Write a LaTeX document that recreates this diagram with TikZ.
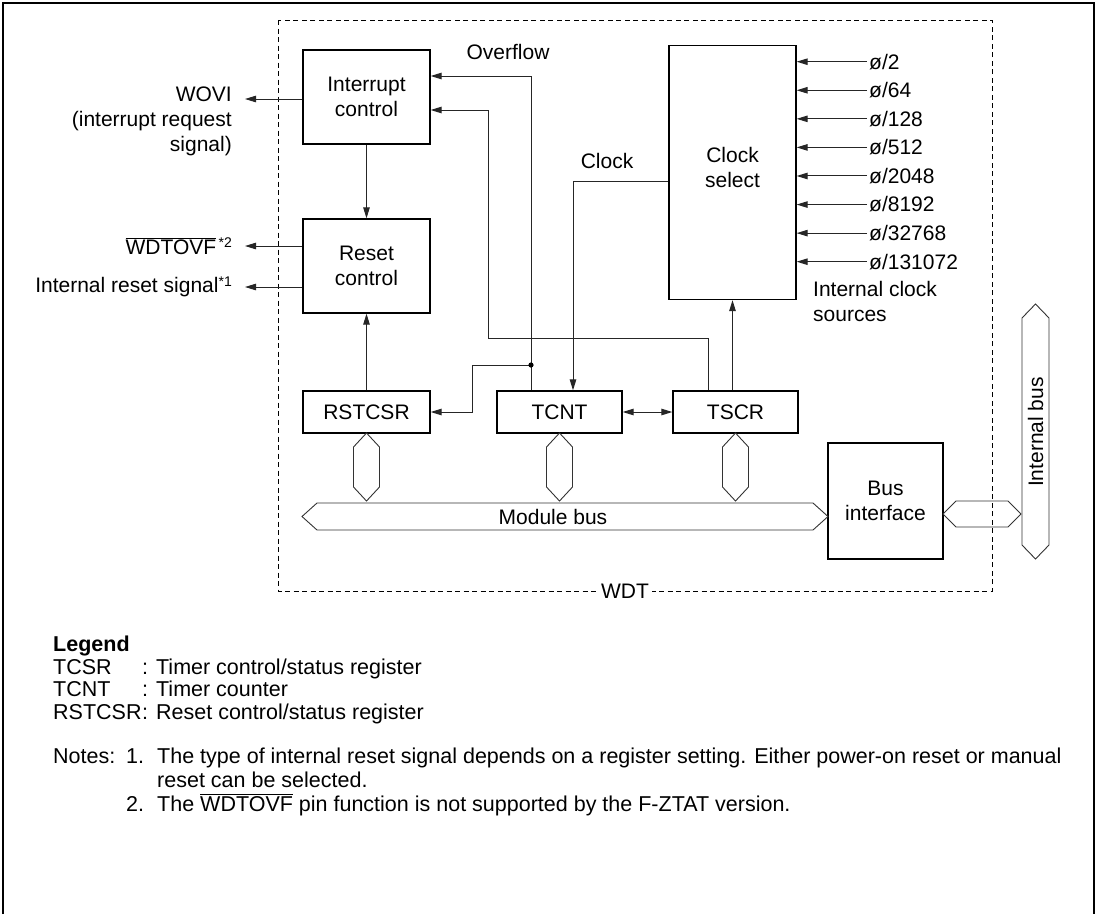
\documentclass[tikz,border=0pt]{standalone}
\usepackage{fontspec}
\setmainfont{Liberation Sans}
\usetikzlibrary{arrows.meta}
\newcommand\dfont{\fontsize{21}{25}\selectfont}
\newcommand\lfont{\fontsize{21.5}{24}\selectfont}
\newcommand\supfont{\fontsize{14}{14}\selectfont}
\begin{document}
\begin{tikzpicture}[x=1pt,y=-1pt,
  box/.style={draw=black, line width=1.3pt, inner sep=0pt, align=center, font=\dfont},
  conn/.style={line width=1pt, draw=black!85},
  arr/.style={conn, -{Triangle[length=11pt,width=6.5pt]}},
  arrb/.style={conn, {Triangle[length=11pt,width=6.5pt]}-{Triangle[length=11pt,width=6.5pt]}},
  bus/.style={line width=0.9pt, draw=black!80},
  lbl/.style={font=\dfont, inner sep=0pt},
  leg/.style={font=\lfont, inner sep=0pt, anchor=base west},
  wdtbox/.style={line width=0.9pt, dash pattern=on 5pt off 3.5pt},
]
\useasboundingbox (0,0) rectangle (1101,914);
% outer frame
\draw[line width=1.2pt] (3,914) -- (3,3) -- (1094,3) -- (1094,914);

% WDT dashed box
\draw[wdtbox] (278,20) rectangle (992,591);
\node[lbl, fill=white, inner xsep=3pt] (wdt) at (625,591) {WDT};

% blocks
\node[box, minimum width=127pt, minimum height=94pt] (ic) at (366.5,97) {Interrupt\\control};
\node[box, minimum width=127pt, minimum height=94pt] (rc) at (366.5,266) {Reset\\control};
\node[box, minimum width=127pt, minimum height=42pt] (rst) at (366.5,412) {RSTCSR};
\node[box, minimum width=125pt, minimum height=42pt] (tcnt) at (559.5,412) {TCNT};
\node[box, minimum width=125pt, minimum height=42pt] (tscr) at (735.5,412) {TSCR};
\node[box, minimum width=127pt, minimum height=254pt] (cs) at (732.5,172.5) {};
\node[lbl, align=center] (csT) at (732.5,167) {Clock\\select};
\node[box, minimum width=115pt, minimum height=116pt] (bi) at (885.5,501) {Bus\\interface};

% left outputs
\coordinate (wovi) at (245,99);
\coordinate (wdo) at (245,246);
\coordinate (irs) at (245,287);
\draw[arr] (ic.west |- wovi) -- (wovi);
\draw[arr] (rc.west |- wdo) -- (wdo);
\draw[arr] (rc.west |- irs) -- (irs);
\node[lbl, anchor=east, align=right] (woviT) at (232,121.5) {WOVI\\(interrupt request\\signal)};
\node[lbl, anchor=east] (wdoT) at (232,246) {$\overline{\mbox{WDTOVF}}$\raisebox{0.6ex}{\supfont\,*2}};
\node[lbl, anchor=east] (irsT) at (232,287) {Internal reset signal\raisebox{0.6ex}{\supfont *1}};

% vertical connections
\draw[arr] (ic.south) -- (rc.north);
\draw[arr] (rst.north) -- (rc.south);
\draw[arr] (tscr.north -| cs.south) -- (cs.south);
\draw[arrb] (tcnt.east) -- (tscr.west);

% overflow
\coordinate (ov) at (531,76);
\draw[arr] (tcnt.north -| ov) -- (ov) -- (ic.east |- ov);
\node[lbl] (ovT) at (508,52) {Overflow};

% TSCR -> interrupt control
\coordinate (t1) at (708,338);
\coordinate (t2) at (488,110);
\draw[arr] (tscr.north -| t1) -- (t1) -- (t1 -| t2) -- (t2) -- (ic.east |- t2);

% junction -> RSTCSR
\coordinate (jd) at (531,365);
\coordinate (j2) at (472,412);
\draw[arr] (jd) -- (jd -| j2) -- (j2) -- (rst.east |- j2);
\fill (jd) circle (2.6);

% clock
\coordinate (ck) at (573,181);
\draw[arr] (cs.west |- ck) -- (ck) -- (tcnt.north -| ck);
\node[lbl] (ckT) at (607,161) {Clock};

% clock inputs
\foreach \v [count=\i from 0] in {2,64,128,512,2048,8192,32768,131072} {
  \coordinate (cin\i) at (867,{61.7+28.57*\i});
  \draw[arr] (cin\i) -- (cs.east |- cin\i);
  \node[lbl, anchor=west] (cinT\i) at (869,{61.7+28.57*\i}) {ø/\v};
}
\node[lbl, anchor=north west, align=left] (ics) at (813,281) {Internal clock\\sources};

% register bus stubs
\foreach \x in {366.5,559.5,735.5} {
  \draw[bus] (\x,433) -- (\x+13,447) -- (\x+13,487) -- (\x,501) -- (\x-13,487) -- (\x-13,447) -- cycle;
}
% module bus
\draw[bus] (302,516.5) -- (317,503) -- (813,503) -- (828,516.5) -- (813,530) -- (317,530) -- cycle;
\node[lbl] (mb) at (553,516.5) {Module bus};
% bus interface to internal bus
\draw[bus] (943,514) -- (956,501) -- (1008,501) -- (1021,514) -- (1008,527) -- (956,527) -- cycle;
\draw[bus] (1035.5,304) -- (1049,318) -- (1049,545) -- (1035.5,559) -- (1022,545) -- (1022,318) -- cycle;
\node[lbl, rotate=90] (ib) at (1035.5,432) {Internal bus};

% legend
\node[leg, font=\lfont\bfseries] (legT) at (53,651.5) {Legend};
\node[leg] (l1a) at (53,674) {TCSR};
\node[leg] (l1b) at (142,674) {: Timer control/status register};
\node[leg] (l2a) at (53,696.5) {TCNT};
\node[leg] (l2b) at (142,696.5) {: Timer counter};
\node[leg] (l3a) at (53,719) {RSTCSR};
\node[leg] (l3b) at (142,719) {: Reset control/status register};

% notes
\node[leg] (n0) at (53,763) {Notes:};
\node[leg] (n1) at (126,763) {1.};
\node[leg] (n1a) at (157,763) {The type of internal reset signal depends on a register setting. Either power-on reset or manual};
\node[leg] (n1b) at (157,787) {reset can be selected.};
\node[leg] (n2) at (126,811) {2.};
\node[leg] (n2a) at (157,811) {The $\overline{\mbox{WDTOVF}}$ pin function is not supported by the F-ZTAT version.};
\end{tikzpicture}
\end{document}
